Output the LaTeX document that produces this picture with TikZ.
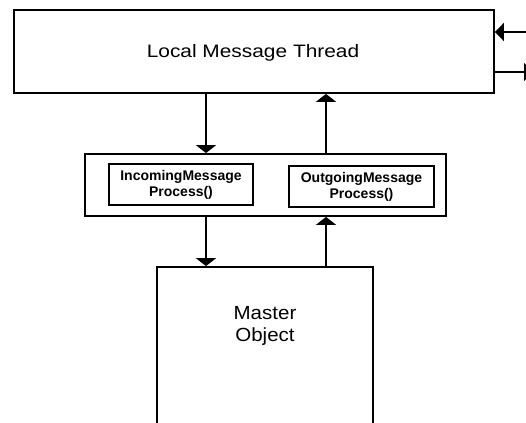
\documentclass[tikz,border=0pt]{standalone}
\usepackage{fontspec}
\setmainfont{Liberation Sans}
\newfontfamily\widetop[FakeStretch=1.16]{Liberation Sans}
\newfontfamily\widemaster[FakeStretch=1.08]{Liberation Sans}
\usetikzlibrary{arrows.meta}
\begin{document}
\begin{tikzpicture}[x=1pt,y=-1pt,
  box/.style={draw, line width=1.8pt, inner sep=0pt},
  arr/.style={line width=2pt, -{Triangle[width=20pt,length=8pt]}},
  sidearr/.style={line width=1.8pt, -{Triangle[width=18pt,length=9pt]}},
  proc/.style={box, align=center, font=\bfseries\fontsize{14}{16}\selectfont}]
\useasboundingbox (0,0) rectangle (526,422);
% boxes
\node[box, minimum width=480pt, minimum height=83pt] (top) at (254,51.5) {};
\node[anchor=base, font=\widetop\fontsize{18}{20}\selectfont] (toplabel) at (253,58) {Local Message Thread};
\node[box, minimum width=361pt, minimum height=62pt] (mid) at (265.5,185) {};
\node[proc, minimum width=144pt, minimum height=41pt] (inproc) at (181,184.5) {IncomingMessage\\Process()};
\node[proc, minimum width=145pt, minimum height=41pt] (outproc) at (361.5,186.5) {OutgoingMessage\\Process()};
\node[box, minimum width=216pt, minimum height=170pt] (master) at (265,352) {};
\node[align=center, font=\widemaster\fontsize{19}{22}\selectfont] (masterlabel) at (265,326) {Master\\Object};
% connectors
\coordinate (d) at (206,0);
\coordinate (u) at (326,0);
\draw[arr] (top.south -| d) -- (mid.north -| d);
\draw[arr] (mid.north -| u) -- (top.south -| u);
\draw[arr] (mid.south -| d) -- (master.north -| d);
\draw[arr] (master.north -| u) -- (mid.south -| u);
\coordinate (inR) at (530,32);
\coordinate (outR) at (533,72);
\draw[sidearr] (inR) -- (top.east |- inR);
\draw[sidearr] (top.east |- outR) -- (outR);
\end{tikzpicture}
\end{document}
